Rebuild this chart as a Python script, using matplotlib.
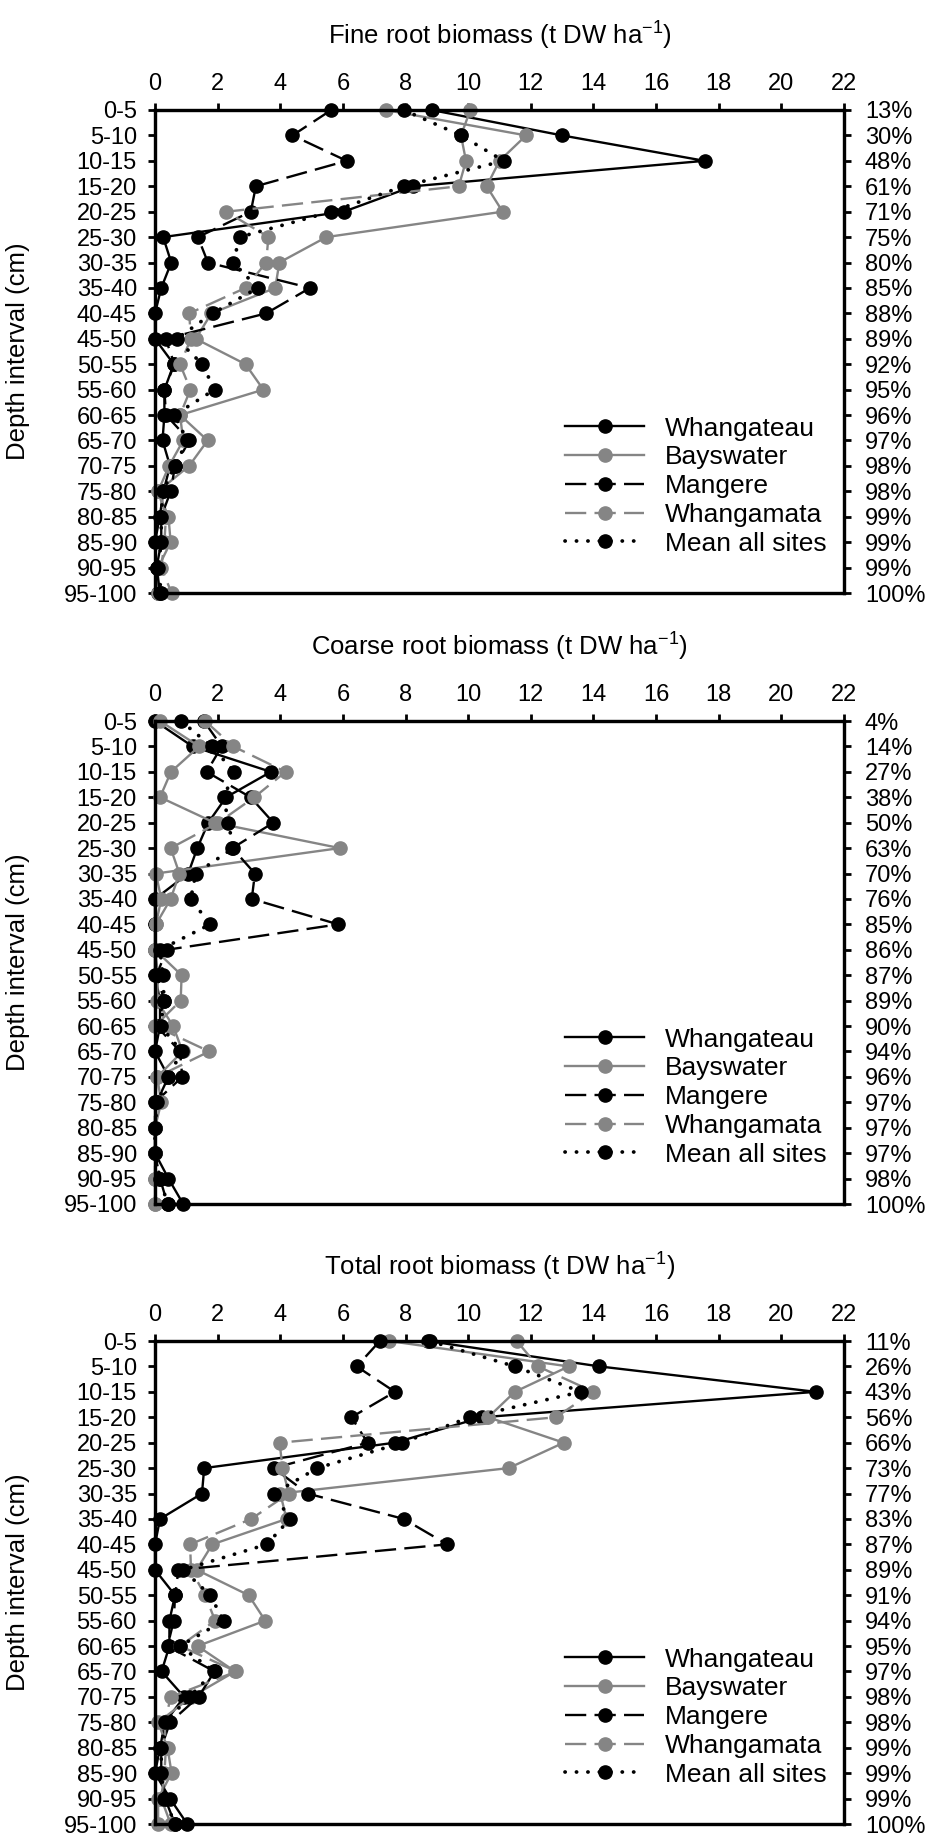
import matplotlib
matplotlib.use('Agg')
import matplotlib.pyplot as plt

plt.rcParams['font.family'] = ['Liberation Sans', 'DejaVu Sans']
plt.rcParams['mathtext.fontset'] = 'custom'
plt.rcParams['mathtext.rm'] = 'Liberation Sans'
plt.rcParams['mathtext.default'] = 'regular'

# ---------------- data ----------------
depths = ['0-5', '5-10', '10-15', '15-20', '20-25', '25-30', '30-35', '35-40', '40-45', '45-50',
          '50-55', '55-60', '60-65', '65-70', '70-75', '75-80', '80-85', '85-90', '90-95', '95-100']
site_names = ['Whangateau', 'Bayswater', 'Mangere', 'Whangamata', 'Mean all sites']
x_ticks = [0, 2, 4, 6, 8, 10, 12, 14, 16, 18, 20, 22]

fine_whangateau = [8.83, 13.0, 17.55, 8.24, 6.03, 0.26, 0.52, 0.2, 0.0, 0.0, 0.6, 0.3, 0.3, 0.24, 0.48, 0.27, 0.15, 0.0, 0.05, 0.1]
fine_bayswater = [7.36, 11.85, 11.0, 10.59, 11.1, 5.47, 3.97, 3.84, 1.8, 1.3, 2.89, 3.46, 0.8, 1.68, 1.09, 0.1, 0.43, 0.5, 0.1, 0.1]
fine_mangere = [5.63, 4.39, 6.12, 3.22, 3.06, 1.37, 1.69, 4.95, 3.55, 0.34, 0.62, 0.3, 0.35, 1.1, 0.64, 0.5, 0.2, 0.2, 0.05, 0.16]
fine_whangamata = [10.07, 9.77, 9.93, 9.7, 2.28, 3.62, 3.55, 2.89, 1.09, 1.15, 0.8, 1.13, 0.8, 0.9, 0.45, 0.1, 0.35, 0.3, 0.2, 0.53]
fine_mean = [7.94, 9.77, 11.13, 7.94, 5.63, 2.7, 2.5, 3.28, 1.84, 0.69, 1.51, 1.9, 0.62, 1.03, 0.64, 0.25, 0.2, 0.2, 0.1, 0.2]
fine_cum_pct = ['13%', '30%', '48%', '61%', '71%', '75%', '80%', '85%', '88%', '89%',
                '92%', '95%', '96%', '97%', '98%', '98%', '99%', '99%', '99%', '100%']

coarse_whangateau = [0.0, 1.2, 3.7, 2.27, 1.7, 1.35, 1.06, 0.0, 0.0, 0.0, 0.0, 0.16, 0.16, 0.0, 0.43, 0.05, 0.0, 0.0, 0.43, 0.9]
coarse_bayswater = [0.16, 1.41, 0.51, 0.16, 1.9, 5.9, 0.03, 0.2, 0.03, 0.0, 0.1, 0.06, 0.58, 0.88, 0.07, 0.0, 0.0, 0.0, 0.0, 0.0]
coarse_mangere = [1.56, 2.13, 1.65, 3.05, 3.78, 2.47, 3.19, 3.09, 5.85, 0.37, 0.05, 0.3, 0.05, 0.8, 0.87, 0.0, 0.0, 0.0, 0.16, 0.4]
coarse_whangamata = [1.6, 2.5, 4.17, 3.17, 2.02, 0.5, 0.78, 0.5, 0.03, 0.0, 0.85, 0.82, 0.0, 1.73, 0.07, 0.2, 0.0, 0.0, 0.0, 0.0]
coarse_mean = [0.83, 1.81, 2.53, 2.2, 2.34, 2.5, 1.3, 1.14, 1.76, 0.16, 0.25, 0.29, 0.18, 0.85, 0.43, 0.07, 0.0, 0.0, 0.16, 0.4]
coarse_cum_pct = ['4%', '14%', '27%', '38%', '50%', '63%', '70%', '76%', '85%', '86%',
                  '87%', '89%', '90%', '94%', '96%', '97%', '97%', '97%', '98%', '100%']

total_whangateau = [8.72, 14.19, 21.1, 10.44, 7.66, 1.57, 1.5, 0.16, 0.0, 0.0, 0.64, 0.46, 0.46, 0.21, 0.93, 0.32, 0.16, 0.0, 0.48, 1.03]
total_bayswater = [7.47, 13.21, 11.49, 10.64, 13.05, 11.29, 4.0, 4.2, 1.83, 1.33, 2.99, 3.52, 1.36, 2.56, 1.16, 0.1, 0.4, 0.53, 0.1, 0.1]
total_mangere = [7.18, 6.44, 7.66, 6.27, 6.79, 3.79, 4.87, 7.94, 9.33, 0.75, 0.64, 0.6, 0.4, 1.9, 1.39, 0.48, 0.2, 0.2, 0.32, 0.64]
total_whangamata = [11.55, 12.23, 14.0, 12.8, 3.98, 4.07, 4.27, 3.07, 1.12, 1.15, 1.6, 1.92, 0.8, 2.6, 0.51, 0.3, 0.35, 0.3, 0.2, 0.5]
total_mean = [8.77, 11.49, 13.6, 10.05, 7.9, 5.18, 3.79, 4.31, 3.57, 0.9, 1.76, 2.19, 0.8, 1.89, 1.1, 0.32, 0.2, 0.2, 0.3, 0.64]
total_cum_pct = ['11%', '26%', '43%', '56%', '66%', '73%', '77%', '83%', '87%', '89%',
                 '91%', '94%', '95%', '97%', '98%', '98%', '99%', '99%', '99%', '100%']

panel_titles = ['Fine root biomass (t DW ha$^{-1}$)',
                'Coarse root biomass (t DW ha$^{-1}$)',
                'Total root biomass (t DW ha$^{-1}$)']

panels = [
    ([fine_whangateau, fine_bayswater, fine_mangere, fine_whangamata, fine_mean], fine_cum_pct),
    ([coarse_whangateau, coarse_bayswater, coarse_mangere, coarse_whangamata, coarse_mean], coarse_cum_pct),
    ([total_whangateau, total_bayswater, total_mangere, total_whangamata, total_mean], total_cum_pct),
]

# ---------------- styles ----------------
GRAY = '#858585'
styles = [
    dict(color='black', linestyle='-'),
    dict(color=GRAY, linestyle='-'),
    dict(color='black', dashes=(9, 3.5)),
    dict(color=GRAY, dashes=(9, 3.5)),
    dict(color='black', dashes=(0.05, 3.0), linewidth=2.7, dash_capstyle='round'),
]

W, H = 945, 1842
fig = plt.figure(figsize=(W / 100, H / 100), dpi=100)

left_px, right_px = 155, 844
tops_px = [110, 721, 1341]
height_px = 483
TICK_FS = 17
TEXT_FS = 18.5
LEG_FS = 19

for (series, pct), top, title in zip(panels, tops_px, panel_titles):
    ax = fig.add_axes([left_px / W, 1 - (top + height_px) / H,
                       (right_px - left_px) / W, height_px / H])
    y = list(range(len(depths)))
    for vals, name, st in zip(series, site_names, styles):
        kw = dict(linewidth=1.7, marker='o', markersize=9.5, clip_on=False)
        kw.update(st)
        ax.plot(vals, y, label=name, markerfacecolor=st['color'],
                markeredgecolor=st['color'], **kw)
    ax.set_xlim(0, 22)
    ax.set_ylim(len(depths) - 1, 0)
    ax.set_xticks(x_ticks)
    ax.set_xticklabels([str(t) for t in x_ticks])
    ax.xaxis.tick_top()
    ax.set_yticks(y)
    ax.set_yticklabels(depths)
    for sp in ax.spines.values():
        sp.set_linewidth(2.3)
    ax.tick_params(axis='x', direction='out', length=5, width=2, labelsize=TICK_FS, pad=6)
    ax.tick_params(axis='y', direction='out', length=5, width=2, labelsize=TICK_FS, pad=8)

    ax2 = ax.twinx()
    ax2.set_ylim(ax.get_ylim())
    ax2.set_yticks(y)
    ax2.set_yticklabels(pct)
    ax2.tick_params(axis='y', direction='out', length=5, width=2, labelsize=TICK_FS, pad=10)
    for sp in ax2.spines.values():
        sp.set_linewidth(2.3)

    ax.legend(loc='upper left', bbox_to_anchor=(0.595, 0.365), frameon=False,
              fontsize=LEG_FS, handlelength=3.0, handletextpad=0.8,
              labelspacing=0.18, borderpad=0, borderaxespad=0)

    fig.text((left_px + right_px) / 2 / W, 1 - (top - 74) / H, title,
             ha='center', va='center', fontsize=TEXT_FS)
    fig.text(18 / W, 1 - (top + height_px / 2) / H, 'Depth interval (cm)',
             ha='center', va='center', rotation=90, fontsize=TEXT_FS)

fig.savefig('out.png', dpi=100)
